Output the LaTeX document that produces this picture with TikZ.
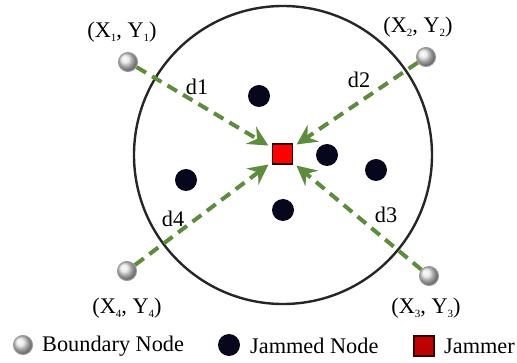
\documentclass[tikz,border=0pt]{standalone}
\usepackage{fontspec}
\setmainfont{Liberation Serif}
\usetikzlibrary{arrows.meta,shadings}

\definecolor{arrowgreen}{RGB}{92,140,60}
\definecolor{jamdark}{RGB}{6,6,28}

\tikzset{
  bnode/.style={circle, inner sep=0pt, minimum size=19pt, draw=gray!80, line width=1pt, ball color=gray!20},
  jnode/.style={circle, inner sep=0pt, minimum size=22pt, fill=jamdark},
  jammer/.style={rectangle, inner sep=0pt, minimum size=20pt, fill=red, draw=black!80!red, line width=1.6pt},
  dist/.style={arrowgreen, line width=4pt, dash pattern=on 11pt off 7pt, -{Stealth[length=20pt,width=20pt,inset=7pt]}, shorten >=4pt}
}

\newcommand{\sub}[1]{\raisebox{-0.45ex}{\fontsize{11}{12}\selectfont #1}}

\begin{document}
\begin{tikzpicture}[x=1pt,y=-1pt,font=\fontsize{22.3}{26}\selectfont]
        \useasboundingbox (0,0) rectangle (517,363);

        % jammed area
        \draw[line width=2.4pt, black!85] (283,155) circle (149);

        \node[jammer] (jam) at (282.5,154) {};

        % jammed nodes
        \node[jnode] (j1) at (259,96) {};
        \node[jnode] (j2) at (186,180) {};
        \node[jnode] (j3) at (327,155) {};
        \node[jnode] (j4) at (376,170) {};
        \node[jnode] (j5) at (283,210) {};

        % boundary nodes
        \node[bnode] (b1) at (128,62) {};
        \node[bnode] (b2) at (426,57) {};
        \node[bnode] (b3) at (429,276) {};
        \node[bnode] (b4) at (127,271) {};

        \node (p1) at (122,32) {(X\sub{1}, Y\sub{1})};
        \node (p2) at (418,27) {(X\sub{2}, Y\sub{2})};
        \node (p3) at (426,308) {(X\sub{3}, Y\sub{3})};
        \node (p4) at (127,308) {(X\sub{4}, Y\sub{4})};

        % distances to the jammer
        \draw[dist] (b1) -- (jam);
        \draw[dist] (b2) -- (jam);
        \draw[dist] (b3) -- (jam);
        \draw[dist] (b4) -- (jam);

        \node (d1) at (197,87) {d1};
        \node (d2) at (359,80) {d2};
        \node (d3) at (386,215) {d3};
        \node (d4) at (173,219) {d4};

        % legend
        \node[bnode] (lb) at (23,345) {};
        \node[anchor=west, inner sep=0pt] (lbt) at (42,346) {Boundary Node};
        \node[jnode] (lj) at (229,345) {};
        \node[anchor=west, inner sep=0pt] (ljt) at (250,346) {Jammed Node};
        \node[jammer, fill=red!75!black] (lm) at (424,346) {};
        \node[anchor=west, inner sep=0pt] (lmt) at (444,346) {Jammer};
\end{tikzpicture}
\end{document}
